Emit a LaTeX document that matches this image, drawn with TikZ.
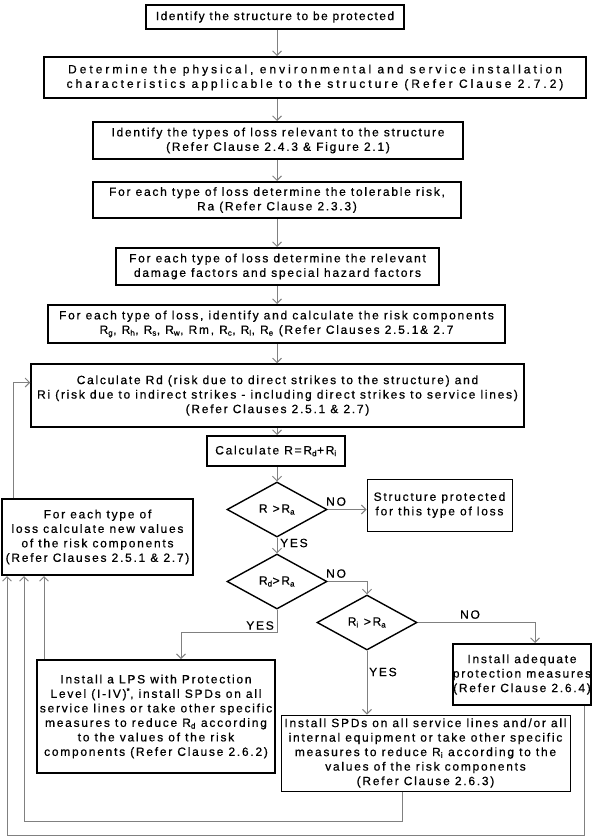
\documentclass[tikz,border=0pt]{standalone}
\usepackage{fontspec}
\setmainfont{Liberation Sans}[LetterSpace=14.5, FakeBold=0.6]
\usetikzlibrary{arrows.meta,shapes.geometric}

\begin{document}
\begin{tikzpicture}[x=1pt,y=-1pt,
    box/.style={draw, line width=2pt, align=center, inner sep=0pt,
      font=\fontsize{12}{14.5}\selectfont},
    thinbox/.style={box, line width=1pt},
    decision/.style={draw, diamond, line width=1.4pt, inner sep=0pt,
      minimum width=100pt, minimum height=55pt, font=\fontsize{12}{14}\selectfont},
    link/.style={draw=gray, line width=0.9pt, -{Straight Barb[length=4.5pt,width=9pt]}},
    lbl/.style={inner sep=0pt, font=\fontsize{12}{14}\selectfont}]
  \fill[white] (0,0) rectangle (600,837);
  \useasboundingbox (0,0) rectangle (600,837);

  % main column
  \coordinate (ax) at (277,0);
  \node[box, minimum width=258pt, minimum height=24pt,
        font=\fontsize{12}{14.5}\selectfont\addfontfeature{LetterSpace=12}] (ident) at (275,17)
    {Identify the structure to be protected};
  \node[box, minimum width=542pt, minimum height=41pt,
        font=\fontsize{12}{14.5}\selectfont\addfontfeature{LetterSpace=25}] (phys) at (315,77.5)
    {Determine the physical, environmental and service installation\\
     characteristics applicable to the structure (Refer Clause 2.7.2)};
  \node[box, minimum width=370pt, minimum height=37pt] (types) at (278,140.5)
    {Identify the types of loss relevant to the structure\\
     (Refer Clause 2.4.3 \& Figure 2.1)};
  \node[box, minimum width=368pt, minimum height=36pt] (tolrisk) at (277,200)
    {For each type of loss determine the tolerable risk,\\
     Ra (Refer Clause 2.3.3)};
  \node[box, minimum width=323pt, minimum height=37pt] (factors) at (277.5,266.5)
    {For each type of loss determine the relevant\\
     damage factors and special hazard factors};
  \node[box, minimum width=457pt, minimum height=38pt] (compon) at (276.5,324)
    {For each type of loss, identify and calculate the risk components\\
     R\textsubscript{g}, R\textsubscript{h}, R\textsubscript{s}, R\textsubscript{w},
     Rm, R\textsubscript{c}, R\textsubscript{l}, R\textsubscript{e}
     (Refer Clauses 2.5.1\& 2.7};
  \node[box, line width=1.5pt, minimum width=493pt, minimum height=63pt] (calcrd) at (277.5,395.5)
    {Calculate Rd (risk due to direct strikes to the structure) and\\
     Ri (risk due to indirect strikes - including direct strikes to service lines)\\
     (Refer Clauses 2.5.1 \& 2.7)};
  \node[box, minimum width=138pt, minimum height=30pt] (calcr) at (276,451)
    {Calculate R=R\textsubscript{d}+R\textsubscript{i}};

  % decisions
  \node[decision] (dcheck1) at (277,509.5) {R >R\textsubscript{a}};
  \node[decision] (dcheck2) at (277,581.5) {R\textsubscript{d}>R\textsubscript{a}};
  \node[decision] (dcheck3) at (367,622.5) {R\textsubscript{i} >R\textsubscript{a}};

  % outcomes
  \node[thinbox, minimum width=145pt, minimum height=52pt] (safe) at (439.5,505)
    {Structure protected\\ for this type of loss};
  \node[box, minimum width=191pt, minimum height=76pt] (newval) at (97.5,537)
    {For each type of\\ loss calculate new values\\ of the risk components\\
     (Refer Clauses 2.5.1 \& 2.7)};
  \node[box, minimum width=238pt, minimum height=113pt] (lps) at (156,716.5)
    {Install a LPS with Protection\\
     Level (I-IV)\textsuperscript{*}, install SPDs on all\\
     service lines or take other specific\\
     measures to reduce R\textsubscript{d} according\\
     to the values of the risk\\
     components (Refer Clause 2.6.2)};
  \node[box, minimum width=138pt, minimum height=61pt] (adequate) at (522,674.5)
    {Install adequate\\ protection measures\\ (Refer Clause 2.6.4)};
  \node[thinbox, minimum width=289pt, minimum height=76pt] (spd) at (425.5,753)
    {Install SPDs on all service lines and/or all\\
     internal equipment or take other specific\\
     measures to reduce R\textsubscript{i} according to the\\
     values of the risk components\\
     (Refer Clause 2.6.3)};

  % labels
  \node[lbl, anchor=south west] (no1) at (326,506) {NO};
  \node[lbl, anchor=west] (yes1) at (280,543) {YES};
  \node[lbl, anchor=south west] (no2) at (326,578) {NO};
  \node[lbl, anchor=south east] (yes2) at (274,630) {YES};
  \node[lbl, anchor=south] (no3) at (470,619) {NO};
  \node[lbl, anchor=west] (yes3) at (369,672) {YES};

  % flow
  \draw[link] (ident.south -| ax) -- (phys.north -| ax);
  \draw[link] (phys.south -| ax) -- (types.north -| ax);
  \draw[link] (types.south -| ax) -- (tolrisk.north -| ax);
  \draw[link] (tolrisk.south -| ax) -- (factors.north -| ax);
  \draw[link] (factors.south -| ax) -- (compon.north -| ax);
  \draw[link] (compon.south -| ax) -- (calcrd.north -| ax);
  \draw[link] (calcrd.south -| ax) -- (calcr.north -| ax);
  \draw[link] (calcr.south -| ax) -- (dcheck1.north);
  \draw[link] (dcheck1.east) -- (dcheck1.east -| safe.west);
  \draw[link] (dcheck1.south) -- (dcheck2.north);
  \draw[link] (dcheck2.east) -| (dcheck3.north);
  \draw[link] (dcheck3.east) -| ([xshift=13pt]adequate.north);
  \draw[link] (dcheck3.south) -- (dcheck3.south |- spd.north);
  \draw[link] (dcheck2.south) -- ++(0,23) -| ([xshift=25pt]lps.north);

  % feedback
  \coordinate (fb1) at (44,0);
  \coordinate (fb2) at (24,0);
  \coordinate (fb3) at (7,0);
  \coordinate (fb4) at (13,0);
  \draw[link] (lps.north -| fb1) -- (newval.south -| fb1);
  \draw[link] ([xshift=-23.5pt]spd.south) -- ++(0,30) -| (newval.south -| fb2);
  \draw[link] ([xshift=62pt]adequate.south) -- ++(0,129) -| (newval.south -| fb3);
  \draw[link] (newval.north -| fb4) |- ([yshift=13pt]calcrd.west);
\end{tikzpicture}
\end{document}
